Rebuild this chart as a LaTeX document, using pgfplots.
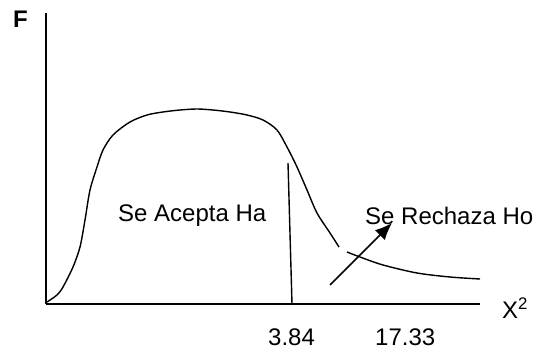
\documentclass[border=0pt]{standalone}
\usepackage{pgfplots}
\pgfplotsset{compat=1.18}
\usetikzlibrary{arrows.meta}
\usepackage{fontspec}
\setmainfont{Liberation Sans}
\newcommand\lbl{\fontsize{24bp}{29bp}\selectfont}
\begin{document}
\begin{tikzpicture}
\begin{axis}[
  width=434bp, height=291bp, scale only axis,
  xmin=46, xmax=480, ymin=53, ymax=344,
  axis lines=left,
  axis line style={-, line width=1.5bp},
  xtick=\empty, ytick=\empty,
  clip=false,
]
% curve, first part
\addplot[black, line width=1.4bp, smooth, tension=0.5] coordinates {
(47,55) (57,62) (63,70) (73,90) (80,110) (85,137) (90,167) (97,190) (103,207)
(113,222) (130,235) (147,242) (163,245) (180,247) (197,248) (213,247) (230,245)
(247,242) (263,237) (277,227) (287,210) (297,190) (307,167) (317,144) (330,124) (339,110)
};
% curve, tail
\addplot[black, line width=1.4bp, smooth, tension=0.5] coordinates {
(347,105) (360,100) (383,92) (417,84) (450,80) (480,78)
};
% critical value line
\addplot[black, line width=1.4bp] coordinates {(288,194) (292,53)};
% arrow
\addplot[black, line width=1.6bp, -{Latex[length=17bp,width=14bp]}] coordinates {(330,72) (392,134)};
\node[anchor=base west, font=\lbl\bfseries, inner sep=0pt] at (axis cs:13,329) {F};
\node[anchor=base west, font=\lbl, inner sep=0pt] at (axis cs:118,135) {Se Acepta Ha};
\node[anchor=base west, font=\lbl, inner sep=0pt] at (axis cs:365,132) {Se Rechaza Ho};
\node[anchor=base west, font=\lbl, inner sep=0pt] at (axis cs:502,39) {X\textsuperscript{2}};
\node[anchor=base west, font=\lbl, inner sep=0pt] at (axis cs:268,12) {3.84};
\node[anchor=base west, font=\lbl, inner sep=0pt] at (axis cs:375,12) {17.33};
\coordinate (ll) at (axis cs:0,0);
\coordinate (ur) at (axis cs:534,357);
\end{axis}
\pgfresetboundingbox
\path (ll) rectangle (ur);
\end{tikzpicture}
\end{document}
